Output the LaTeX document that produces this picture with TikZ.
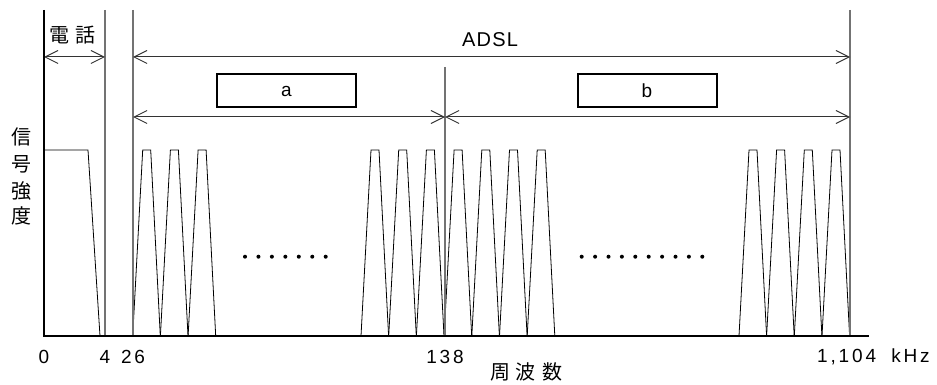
\documentclass[tikz,border=0pt]{standalone}
\usepackage{fontspec}
\setmainfont{Liberation Sans}
\newfontfamily\latsp[LetterSpace=15]{Liberation Sans}
\newfontfamily\latspb[LetterSpace=6]{Liberation Sans}
\newfontfamily\cjk{Noto Sans CJK JP}
\usetikzlibrary{arrows.meta}
\begin{document}
\begin{tikzpicture}[x=1pt,y=-1pt,
  axis/.style={line width=2pt,black},
  guide/.style={line width=1.3pt,black!55},
  dimline/.style={line width=1pt,black!80,{Straight Barb[length=13pt,width=13pt]}-{Straight Barb[length=13pt,width=13pt]}},
  band/.style={line width=0.8pt,black,line join=miter},
  lbl/.style={inner sep=0pt,font=\fontsize{19}{19}\selectfont\latsp},
  cj/.style={inner sep=0pt,font=\fontsize{20}{20}\selectfont\cjk},
  bx/.style={draw,line width=2pt,minimum width=139pt,minimum height=33pt,inner sep=0pt,font=\fontsize{19}{19}\selectfont}]
\useasboundingbox (0,0) rectangle (937,385);
% coordinates
\coordinate (o) at (44,336);
\coordinate (ytop) at (44,10);
\coordinate (xend) at (869,336);
\coordinate (v4t) at (105,10);   \coordinate (v4b) at (105,336);
\coordinate (v26t) at (133,10);  \coordinate (v26b) at (133,336);
\coordinate (v138t) at (445,67); \coordinate (v138b) at (445,336);
\coordinate (vEt) at (850,10);   \coordinate (vEb) at (850,336);
\coordinate (p0) at (44,57);  \coordinate (p4) at (105,57);
\coordinate (q26) at (133,57); \coordinate (qE) at (850,57);
\coordinate (r26) at (133,117); \coordinate (r138) at (445,117); \coordinate (rE) at (850,117);
% bands
\draw[band] (44,150) -- (88,150) -- (100,336);
\foreach \s in {132.7,160.4,188.1,361,388.7,416.4,444.1,471.8,499.5,527.2,739,766.6,794.3,822}
  \draw[band] (\s,336) -- ({\s+10},150) -- ({\s+18},150) -- ({\s+27.6},336);
% dots
\foreach \i in {0,...,6} \fill ({245+13.45*\i},256.7) circle (2pt);
\foreach \i in {0,...,9} \fill ({581.7+13.4*\i},256.7) circle (2pt);
% guides
\draw[guide] (v4t) -- (v4b);
\draw[guide] (v26t) -- (v26b);
\draw[guide] (v138t) -- (v138b);
\draw[guide] (vEt) -- (vEb);
% dimension arrows
\draw[dimline] (p0) -- (p4);
\draw[dimline] (q26) -- (qE);
\draw[dimline] (r26) -- (r138);
\draw[dimline] (r138) -- (rE);
% axes
\draw[axis] (ytop) -- (o) -- (xend);
% boxes
\node[bx] (boxa) at (286.5,91) {a};
\node[bx] (boxb) at (647,91) {b};
% labels
\node[inner sep=0pt,font=\fontsize{20}{20}\selectfont\latspb] (adsl) at (490,40) {ADSL};
\node[cj] (den) at (59,35) {電};
\node[cj] (wa) at (85,35) {話};
\node[cj] (s1) at (22,137) {信};
\node[cj] (s2) at (22,164) {号};
\node[cj] (s3) at (22,191) {強};
\node[cj] (s4) at (22,216) {度};
\node[cj] (f1) at (500,372) {周};
\node[cj] (f2) at (525,372) {波};
\node[cj] (f3) at (552,372) {数};
\node[lbl] (t0) at (44,357) {0};
\node[lbl] (t4) at (105,357) {4};
\node[lbl] (t26) at (133,357) {26};
\node[lbl] (t138) at (445,357) {138};
\node[lbl,anchor=west] (tE) at (817,357) {1,104\hspace{7pt} kHz};
\end{tikzpicture}
\end{document}
